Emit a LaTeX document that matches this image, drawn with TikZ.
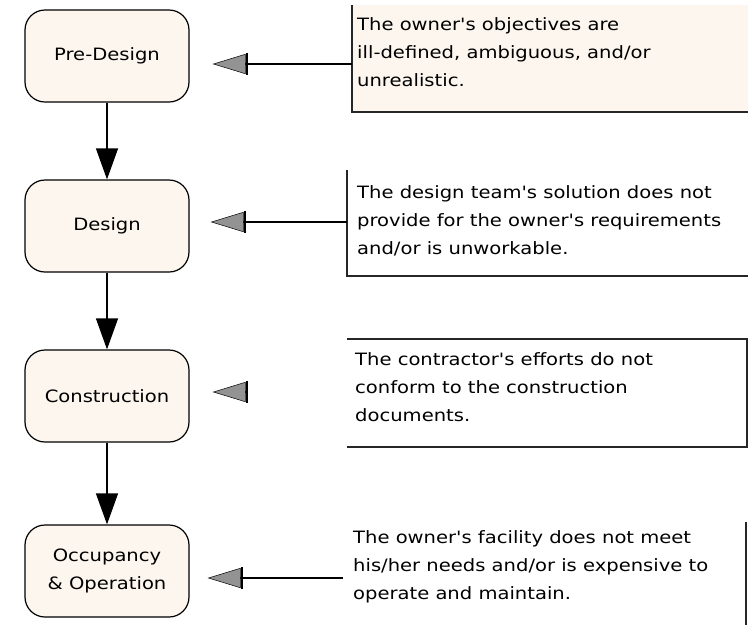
\documentclass[tikz,border=0pt]{standalone}
\usepackage{fontspec}
\setmainfont{DejaVu Sans}[Ligatures=TeXOff, FakeStretch=1.15]
\usetikzlibrary{arrows.meta, positioning, calc}
\definecolor{cream}{RGB}{253,246,239}
\newcommand{\notefont}{\fontsize{17}{28}\selectfont}

\begin{document}
\begin{tikzpicture}[x=1pt, y=-1pt,
    stage/.style={rectangle, rounded corners=20pt, draw, line width=1.2pt, fill=cream,
        minimum width=164pt, minimum height=92pt, align=center, font=\notefont},
    note/.style={anchor=west, align=left, inner sep=0pt, font=\notefont},
    frame/.style={line width=1.3pt, draw=black!85},
    flow/.style={line width=1.2pt, -{Triangle[length=31pt,width=22pt]}},
    hint/.style={line width=1.2pt, -{Bar[width=22pt,line width=2pt] Triangle[length=33pt,width=20pt,color=black,fill=gray!85,line width=0.5pt]}}]
    \useasboundingbox (0,0) rectangle (748,625);

    \node[stage] (pd) at (107,56) {Pre-Design};
    \node[stage] (ds) at (107,226) {Design};
    \node[stage] (cn) at (107,396) {Construction};
    \node[stage] (oc) at (107,571) {Occupancy\\\& Operation};

    \draw[flow] (pd) -- (ds);
    \draw[flow] (ds) -- (cn);
    \draw[flow] (cn) -- (oc);

    \fill[cream] (352,5) rectangle (748,112);
    \draw[frame] (352,5) -- (352,112) -- (748,112);
    \draw[frame] (347,170) -- (347,276) -- (748,276);
    \draw[frame] (347,339) -- (747,339) -- (747,447) -- (347,447);
    \draw[frame] (746,522) -- (746,625);

    \node[note] (n1) at (357,52) {The owner's objectives are\\ill-defined, ambiguous, and/or\\unrealistic.};
    \node[note] (n2) at (357,221) {The design team's solution does not\\provide for the owner's requirements\\and/or is unworkable.};
    \node[note] (n3) at (355,387) {The contractor's efforts do not\\conform to the construction\\documents.};
    \node[note] (n4) at (353,567) {The owner's facility does not meet\\his/her needs and/or is expensive to\\operate and maintain.};

    \coordinate (a1) at (352,64);
    \coordinate (a2) at (347,222);
    \coordinate (a3) at (245,392);
    \coordinate (a4) at (343,578);
    \draw[hint, shorten >=23pt] (a1) -- (pd.east |- a1);
    \draw[hint, shorten >=21pt] (a2) -- (ds.east |- a2);
    \draw[hint, shorten >=23pt] (a3) -- (cn.east |- a3);
    \draw[hint, shorten >=18pt] (a4) -- (oc.east |- a4);
\end{tikzpicture}
\end{document}
